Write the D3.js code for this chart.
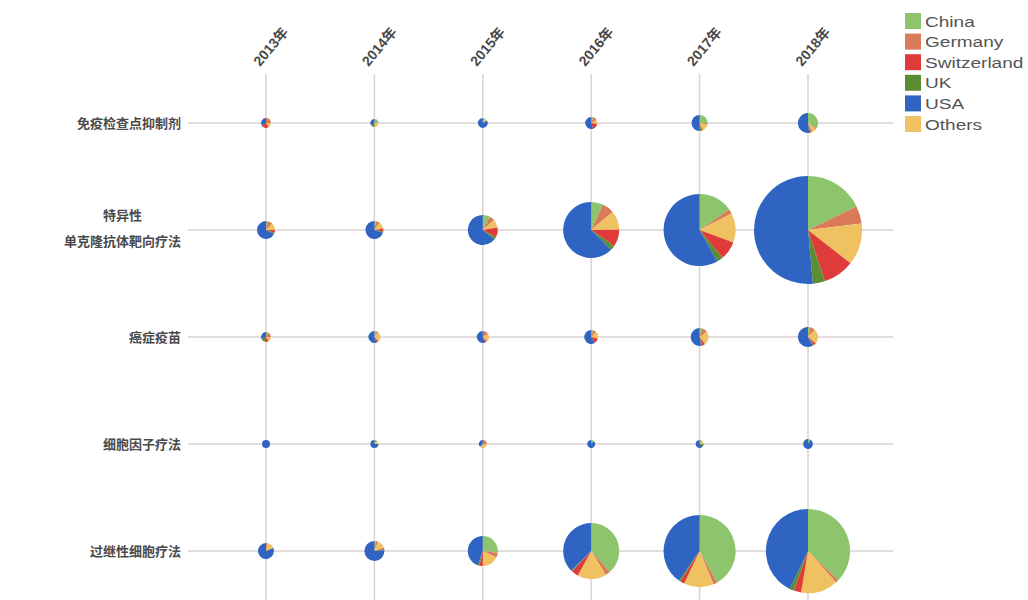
<!DOCTYPE html>
<html>
<head>
<meta charset="utf-8">
<script src="https://cdn.jsdelivr.net/npm/d3@7"></script>
<style>
  body { margin: 0; background: #fff; }
  text { font-family: "Noto Sans CJK SC", "Liberation Sans", sans-serif; }
</style>
</head>
<body>
<div id="chart"></div>
<script>
// categories
var years = ["2013年", "2014年", "2015年", "2016年", "2017年", "2018年"];
var therapies = ["免疫检查点抑制剂", "特异性|单克隆抗体靶向疗法", "癌症疫苗", "细胞因子疗法", "过继性细胞疗法"];
var countries = ["China", "Germany", "Switzerland", "UK", "USA", "Others"];
var colors = ["#8cc56c", "#d97b58", "#e03b3b", "#5b8d33", "#2f64c3", "#efc160"];
// order the slices go round the pie (clockwise from 12 o'clock)
var sliceOrder = ["China", "Germany", "Others", "Switzerland", "UK", "USA"];

// counts per year, each as [China, Germany, Switzerland, UK, USA, Others]
var checkpoint = [[0, 3, 3, 0, 4, 2], [2, 0, 0, 1, 3, 2], [1, 0, 0, 0, 10, 1], [1, 2, 3, 0, 10, 2], [8, 1, 1, 1, 16, 5], [17, 1, 1, 1, 26, 4]];
var antibody = [[1, 4, 2, 1, 27, 5], [1, 3, 2, 1, 28, 5], [9, 6, 12, 3, 72, 10], [27, 27, 38, 11, 244, 43], [99, 13, 54, 18, 375, 86], [258, 77, 136, 52, 746, 181]];
var vaccine = [[1, 2, 1, 2, 4, 2], [1, 1, 1, 0, 10, 5], [0, 3, 1, 0, 10, 4], [1, 2, 3, 0, 14, 4], [2, 4, 2, 1, 21, 10], [2, 4, 2, 1, 29, 12]];
var cytokine = [[0, 0, 0, 0, 8, 0], [1, 0, 0, 0, 6, 1], [0, 2, 0, 0, 3, 3], [1, 0, 0, 0, 7, 0], [1, 0, 0, 1, 5, 1], [1, 0, 0, 0, 11, 0]];
var adoptive = [[0, 1, 0, 0, 26, 5], [1, 2, 1, 1, 38, 7], [30, 6, 4, 2, 50, 20], [150, 11, 16, 2, 146, 65], [270, 12, 12, 5, 260, 86], [328, 10, 25, 15, 377, 125]];
var rows = [checkpoint, antibody, vaccine, cytokine, adoptive];

var width = 1028, height = 600;

var svg = d3.select("#chart").append("svg")
  .attr("width", width)
  .attr("height", height);

var x = d3.scalePoint().domain(years).range([266, 808]);
var y = d3.scalePoint().domain(therapies).range([123, 551]);
var r = d3.scaleSqrt().domain([0, 1450]).range([0, 54]);
var color = d3.scaleOrdinal().domain(countries).range(colors);

// grid lines
svg.append("g").selectAll("line")
  .data(years)
  .enter().append("line")
  .attr("x1", function(d) { return x(d); })
  .attr("x2", function(d) { return x(d); })
  .attr("y1", 74)
  .attr("y2", height)
  .attr("stroke", "#dcd2d2")
  .attr("stroke-width", 1.5);

svg.append("g").selectAll("line")
  .data(therapies)
  .enter().append("line")
  .attr("x1", 188)
  .attr("x2", 893)
  .attr("y1", function(d) { return y(d); })
  .attr("y2", function(d) { return y(d); })
  .attr("stroke", "#dcd2d2")
  .attr("stroke-width", 1.5);

// year labels
svg.append("g").selectAll("text")
  .data(years)
  .enter().append("text")
  .attr("transform", function(d) { return "translate(" + (x(d) - 6) + ",67) rotate(-50)"; })
  .attr("font-size", 14)
  .attr("font-weight", "bold")
  .attr("fill", "#484848")
  .style("font-family", "'Liberation Sans', 'Noto Sans CJK SC', sans-serif")
  .text(function(d) { return d; });

// row labels
var rowLabels = svg.append("g").selectAll("text")
  .data(therapies)
  .enter().append("text")
  .attr("font-size", 13)
  .attr("font-weight", "bold")
  .attr("fill", "#4a4a4a")
  .attr("text-anchor", "end");

rowLabels.each(function(d) {
  var t = d3.select(this);
  var parts = d.split("|");
  if (parts.length === 1) {
    t.attr("x", 181).attr("y", y(d)).attr("dy", "0.35em").text(d);
  } else {
    t.append("tspan").attr("text-anchor", "middle")
      .attr("x", 181 - parts[1].length * 13 / 2).attr("y", y(d) - 15).attr("dy", "0.35em").text(parts[0]);
    t.append("tspan").attr("x", 181).attr("y", y(d) + 11).attr("dy", "0.35em").text(parts[1]);
  }
});

// pies
var pie = d3.pie().sort(null).value(function(d) { return d.value; });
var arc = d3.arc().innerRadius(0);

rows.forEach(function(row, i) {
  row.forEach(function(vals, j) {
    var slices = sliceOrder.map(function(c) {
      return { country: c, value: vals[countries.indexOf(c)] };
    });
    var total = d3.sum(vals);
    var g = svg.append("g")
      .attr("transform", "translate(" + x(years[j]) + "," + y(therapies[i]) + ")");
    g.selectAll("path")
      .data(pie(slices))
      .enter().append("path")
      .attr("d", function(d) { return arc.outerRadius(r(total))(d); })
      .attr("fill", function(d) { return color(d.data.country); });
  });
});

// legend
var legend = svg.append("g").selectAll("g")
  .data(countries)
  .enter().append("g")
  .attr("transform", function(d, i) { return "translate(905," + (13 + i * 20.6) + ")"; });

legend.append("rect")
  .attr("width", 16)
  .attr("height", 16)
  .attr("fill", function(d) { return color(d); });

legend.append("text")
  .attr("transform", "translate(20,13.5) scale(1.36,1)")
  .attr("font-size", 14)
  .attr("fill", "#555")
  .style("font-family", "'Liberation Sans', Arial, sans-serif")
  .text(function(d) { return d; });
</script>
</body>
</html>
